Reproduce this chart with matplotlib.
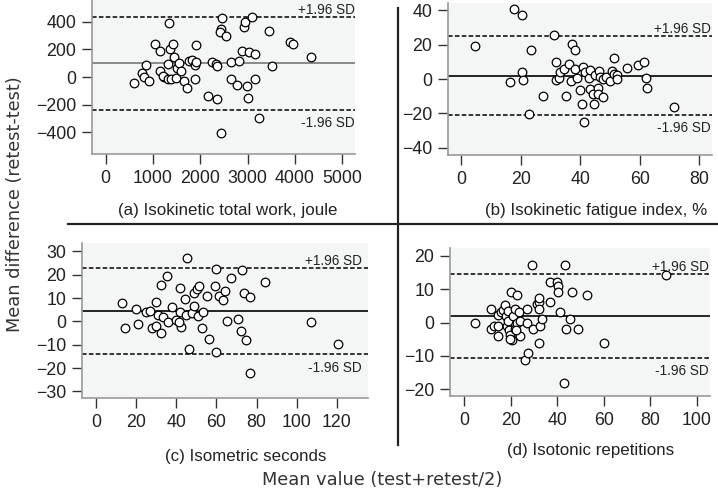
import numpy as np
import matplotlib
matplotlib.use('Agg')
import matplotlib.pyplot as plt
from matplotlib.lines import Line2D

W, H = 718, 491

# ---- data ----
# (a) isokinetic total work
a_x = [605, 761, 810, 915, 844, 1042, 1142, 1148, 1233, 1205, 1311, 1311, 1338, 1353, 1430,
       1444, 1381, 1480, 1514, 1557, 1585, 1655, 1719, 1768, 1825, 1881, 1909, 1909, 1881,
       2163, 2247, 2332, 2346, 2346, 2431, 2459, 2431, 2423, 2543, 2655, 2649, 2770, 2825,
       2882, 2930, 2952, 2981, 3002, 3093, 3037, 3150, 3150, 3234, 3459, 3509, 3896, 3967, 4340]
a_y = [-46, 31, -2, -29, 89, 241, 188, 45, 2, 7, 92, -14, 388, 200, 241,
       147, -14, -10, 67, 103, 43, -31, -77, 118, 123, 87, 231, 110, -14,
       -137, 106, 94, 82, -159, -402, 424, 347, 327, 298, 106, -17, -60, 116,
       188, 363, 399, -65, -154, 435, 183, 164, -17, -298, 332, 79, 253, 241, 144]
a_mean, a_up, a_lo = 99, 435, -240

# (b) isokinetic fatigue index
b_x = [4.5, 17.7, 20.5, 23.3, 20.4, 16.2, 20.6, 27.3, 22.9, 31.3, 31.8, 31.7, 33.0, 33.3,
       34.4, 35.1, 36.3, 36.9, 37.2, 38.3, 38.3, 38.9, 40.0, 40.8, 40.7, 41.1, 41.7, 42.8,
       43.1, 43.4, 44.3, 44.5, 45.0, 45.8, 46.2, 45.8, 46.7, 47.6, 47.8, 48.7, 50.1, 50.7,
       51.2, 51.4, 52.3, 52.5, 55.7, 59.3, 61.3, 62.0, 62.4, 71.4]
b_y = [19.4, 40.6, 37.1, 16.7, 4.1, -1.7, -0.8, -10.1, -20.4, 25.8, 10.1, -0.8, 0.8, 4.3,
       5.8, -9.7, 8.6, -1.4, 20.2, 17.1, 5.8, 0.4, -6.4, 7.2, -14.6, -25.2, 3.9, 0.4,
       -6.0, 5.2, -8.9, -14.4, 2.3, -5.4, 4.8, -8.7, 1.0, -10.7, -0.2, 1.3, -1.0, 4.8,
       12.4, 2.9, 2.1, 0.2, 6.2, 8.2, 10.1, 0.8, -5.4, -16.1]
b_mean, b_up, b_lo = 1.8, 25.0, -20.8

# (c) isometric seconds
c_x = [13.1, 14.5, 19.9, 20.8, 25.0, 27.0, 27.8, 29.9, 29.9, 30.8, 32.3, 32.4, 33.2, 35.5,
       36.0, 38.0, 39.9, 41.8, 41.8, 42.3, 41.5, 44.3, 45.2, 44.8, 46.5, 47.6, 48.9, 48.9,
       50.1, 51.4, 50.9, 53.1, 52.6, 55.4, 56.4, 59.4, 59.7, 59.7, 61.3, 63.3, 64.3, 65.0,
       67.0, 70.5, 72.1, 72.5, 73.7, 74.6, 76.9, 76.9, 84.4, 107.2, 120.4]
c_y = [8.1, -2.8, 5.3, -1.0, 3.9, 4.3, -2.8, 8.3, -2.1, 2.9, -5.0, 15.7, 2.1, 19.3,
       -0.3, 6.2, 0.7, 14.3, 4.0, -2.4, -0.4, 9.6, 27.2, 2.9, -11.8, 3.6, 12.2, 6.7,
       14.0, 15.3, 2.4, 4.2, -2.8, 11.1, -7.4, 15.3, 22.5, -12.9, 11.1, 9.0, 13.2, 0.2,
       18.4, 1.0, -4.0, 22.2, 12.2, -7.8, 10.3, -22.1, 17.1, -0.4, -9.7]
c_mean, c_up, c_lo = 4.6, 23.0, -14.1

# (d) isotonic repetitions
d_x = [4.8, 11.6, 11.7, 13.0, 14.6, 14.8, 14.8, 16.0, 16.7, 17.4, 18.0, 18.4, 18.7, 19.1,
       19.5, 19.8, 20.3, 20.6, 21.2, 21.8, 22.0, 22.7, 22.7, 23.6, 24.1, 24.1, 26.4, 27.0,
       27.0, 27.5, 29.4, 29.8, 31.5, 32.0, 32.4, 32.0, 32.0, 32.7, 33.4, 37.0, 37.0, 39.8,
       40.5, 40.5, 41.4, 43.4, 43.1, 43.8, 45.4, 46.4, 49.0, 52.8, 60.0, 86.8, 22.3, 19.8]
d_y = [0, 4, -1.9, -1, -1, 2.2, -4, 3.2, 3.7, 5.2, 1.9, -1, 0.4, 3.5,
       -2.3, -3.8, 9.2, -5.1, 2, 4, -1.8, 8.2, 0, 3, -4, 0.3, -11.1, 4,
       0, -9, 17.2, -2, 5.4, 6.2, 7.2, 3.9, -6, -1, 1, 12.2, 6.2, 12.2,
       11, 9.2, 3, 17.2, -18, -2, 1, 9.2, -2, 8.2, -6, 14.2, -2.3, -4.8]
d_mean, d_up, d_lo = 1.9, 14.6, -10.7

panels = [
    # x, y, mean, up, lo, box(px l,r,t,b), xlim, ylim, xticks, yticks, mean colour, sd text x
    (a_x, a_y, a_mean, a_up, a_lo, (92, 355, 0, 154), (-290, 5270), (-556, 556),
     [0, 1000, 2000, 3000, 4000, 5000], [-400, -200, 0, 200, 400], '#777777', 355),
    (b_x, b_y, b_mean, b_up, b_lo, (448, 712, 3, 155), (-4.5, 84.3), (-44.2, 44.2),
     [0, 20, 40, 60, 80], [-40, -20, 0, 20, 40], 'black', 711),
    (c_x, c_y, c_mean, c_up, c_lo, (82, 368, 243, 398), (-7, 135.5), (-32.8, 33.6),
     [0, 20, 40, 60, 80, 100, 120], [-30, -20, -10, 0, 10, 20, 30], 'black', 362),
    (d_x, d_y, d_mean, d_up, d_lo, (450, 710, 248, 396), (-6, 105.6), (-22, 22.3),
     [0, 20, 40, 60, 80, 100], [-20, -10, 0, 10, 20], 'black', 709),
]

fig = plt.figure(figsize=(W / 100, H / 100), dpi=100)
fig.patch.set_facecolor('white')
tickfont = 'Liberation Sans'

for (x, y, m, up, lo, box, xl, yl, xt, yt, mc, tx) in panels:
    l, r, t, b = box
    ax = fig.add_axes([l / W, 1 - b / H, (r - l) / W, (b - t) / H])
    ax.set_facecolor('#f4f6f6')
    ax.set_xlim(xl)
    ax.set_ylim(yl)
    ax.set_xticks(xt)
    ax.set_yticks(yt)
    for s in ['top', 'right']:
        ax.spines[s].set_visible(False)
    for s in ['left', 'bottom']:
        ax.spines[s].set_color('#999999')
        ax.spines[s].set_linewidth(1.2)
    ax.tick_params(direction='out', length=7.5, width=1.0, color='#333333',
                   labelcolor='#222222', labelsize=12.8, pad=4)
    for lab in ax.get_xticklabels() + ax.get_yticklabels():
        lab.set_fontfamily(tickfont)
    ax.axhline(m, color=mc, lw=1.2, zorder=2)
    ax.axhline(up, color='black', lw=1.1, ls=(0, (3, 1.5)), zorder=2)
    ax.axhline(lo, color='black', lw=1.1, ls=(0, (3, 1.5)), zorder=2)
    ax.plot(x, y, 'o', ms=6.2, mfc='white', mec='black', mew=0.9, zorder=3)
    fx = (tx - l) / (r - l)
    span = yl[1] - yl[0]
    ax.text(fx, up, '+1.96 SD', transform=ax.get_yaxis_transform(),
            ha='right', va='bottom', fontsize=9.8, family=tickfont, color='#222222')
    ax.text(fx, lo - span * 0.04, '-1.96 SD', transform=ax.get_yaxis_transform(),
            ha='right', va='top', fontsize=9.8, family=tickfont, color='#222222')

# panel captions
captions = [('(a) Isokinetic total work, joule', 228, 210),
            ('(b) Isokinetic fatigue index, %', 596, 210),
            ('(c) Isometric seconds', 246, 457),
            ('(d) Isotonic repetitions', 591, 450)]
for txt, cx, cy in captions:
    fig.text(cx / W, 1 - cy / H, txt, ha='center', va='center', fontsize=12.2,
             family=tickfont, color='#222222')

fig.text(382 / W, 1 - 480 / H, 'Mean value (test+retest/2)', ha='center', va='center',
         fontsize=12.8, family='DejaVu Sans', color='#333333')
fig.text(15 / W, 1 - 204 / H, 'Mean difference (retest-test)', ha='center', va='center',
         rotation=90, fontsize=12.8, family='DejaVu Sans', color='#333333')

# divider lines
fig.add_artist(Line2D([68 / W, 1], [1 - 224 / H, 1 - 224 / H], color='#222222', lw=1.6))
fig.add_artist(Line2D([398 / W, 398 / W], [1 - 8 / H, 1 - 445 / H], color='#222222', lw=1.6))

fig.savefig('out.png', dpi=100)
